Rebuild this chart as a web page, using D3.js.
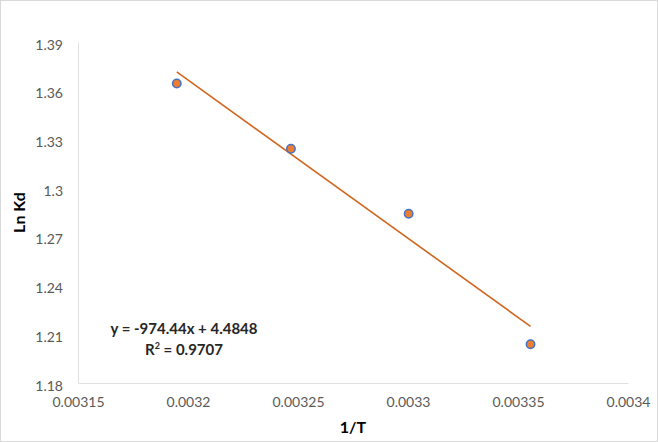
<!DOCTYPE html>
<html><head><meta charset="utf-8">
<script src="https://cdn.jsdelivr.net/npm/d3@7"></script>
<style>
html,body{margin:0;padding:0;background:#fff;}
svg{display:block;}
</style></head>
<body>
<script>
// Data
const invT = [0.0031949, 0.0032468, 0.0033003, 0.0033557];
const lnKd = [1.3644, 1.3243, 1.2842, 1.2039];
const xTicks = [0.00315, 0.0032, 0.00325, 0.0033, 0.00335, 0.0034];
const xTickLabels = ["0.00315", "0.0032", "0.00325", "0.0033", "0.00335", "0.0034"];
const yTicks = [1.18, 1.21, 1.24, 1.27, 1.3, 1.33, 1.36, 1.39];
const yTickLabels = ["1.18", "1.21", "1.24", "1.27", "1.3", "1.33", "1.36", "1.39"];
const fitSlope = [-974.44];
const fitIntercept = [4.4848];
const equationLines = ["y = -974.44x + 4.4848", "R2 = 0.9707"];

const W = 658, H = 442;
const m = {left: 78, right: 30, top: 42, bottom: 59};

const svg = d3.select("body").append("svg").attr("width", W).attr("height", H);
svg.append("rect").attr("x", 0.5).attr("y", 0.5).attr("width", W - 1).attr("height", H - 1)
  .attr("fill", "#fff").attr("stroke", "#d9d9d9");

const x = d3.scaleLinear().domain([0.00315, 0.0034]).range([m.left, W - m.right]);
const y = d3.scaleLinear().domain([1.18, 1.39]).range([H - m.bottom, m.top]);

const font = "Lato, 'Open Sans', sans-serif";

// axes
const xAxis = d3.axisBottom(x).tickValues(xTicks).tickFormat((d, i) => xTickLabels[i]).tickSize(0).tickPadding(14);
const gx = svg.append("g").attr("transform", `translate(0,${y(1.18)})`).call(xAxis);
gx.select(".domain").attr("stroke", "#e0e0e0");
gx.selectAll("text").attr("font-family", font).attr("font-size", 14).attr("fill", "#595959");

const yAxis = d3.axisLeft(y).tickValues(yTicks).tickFormat((d, i) => yTickLabels[i]).tickSize(0).tickPadding(15);
const gy = svg.append("g").attr("transform", `translate(${x(0.00315)},0)`).call(yAxis);
gy.select(".domain").attr("stroke", "#e0e0e0");
gy.selectAll("text").attr("font-family", font).attr("font-size", 14).attr("fill", "#595959").attr("dy", "0.5em");

// trendline
const xMin = d3.min(invT), xMax = d3.max(invT);
const fit = v => fitSlope[0] * v + fitIntercept[0];
svg.append("line")
  .attr("x1", x(xMin)).attr("y1", y(fit(xMin)))
  .attr("x2", x(xMax)).attr("y2", y(fit(xMax)))
  .attr("stroke", "#D0661E").attr("stroke-width", 1.6);

// points
svg.selectAll("circle.pt").data(invT).enter().append("circle")
  .attr("class", "pt")
  .attr("cx", d => x(d)).attr("cy", (d, i) => y(lnKd[i]))
  .attr("r", 4.2)
  .attr("fill", "#ED7D31").attr("stroke", "#4472C4").attr("stroke-width", 1.5);

// equation
const eq = svg.append("g").attr("font-family", font).attr("font-weight", "bold").attr("font-size", 15).attr("fill", "#262626").attr("text-anchor", "middle");
eq.append("text").attr("x", 184).attr("y", 334).text(equationLines[0]);
const r2 = eq.append("text").attr("x", 184).attr("y", 355);
r2.append("tspan").text("R");
r2.append("tspan").attr("font-size", 9).attr("dy", -6).text("2");
r2.append("tspan").attr("dy", 6).text(" = 0.9707");

// axis titles
svg.append("text").attr("x", (m.left + W - m.right) / 2).attr("y", 433)
  .attr("text-anchor", "middle").attr("font-family", font).attr("font-weight", "bold").attr("font-size", 16).attr("fill", "#000")
  .text("1/T");
svg.append("text").attr("transform", `translate(25,${(m.top + H - m.bottom) / 2}) rotate(-90)`)
  .attr("text-anchor", "middle").attr("font-family", font).attr("font-weight", "bold").attr("font-size", 16).attr("fill", "#000")
  .text("Ln Kd");
</script>
</body></html>
